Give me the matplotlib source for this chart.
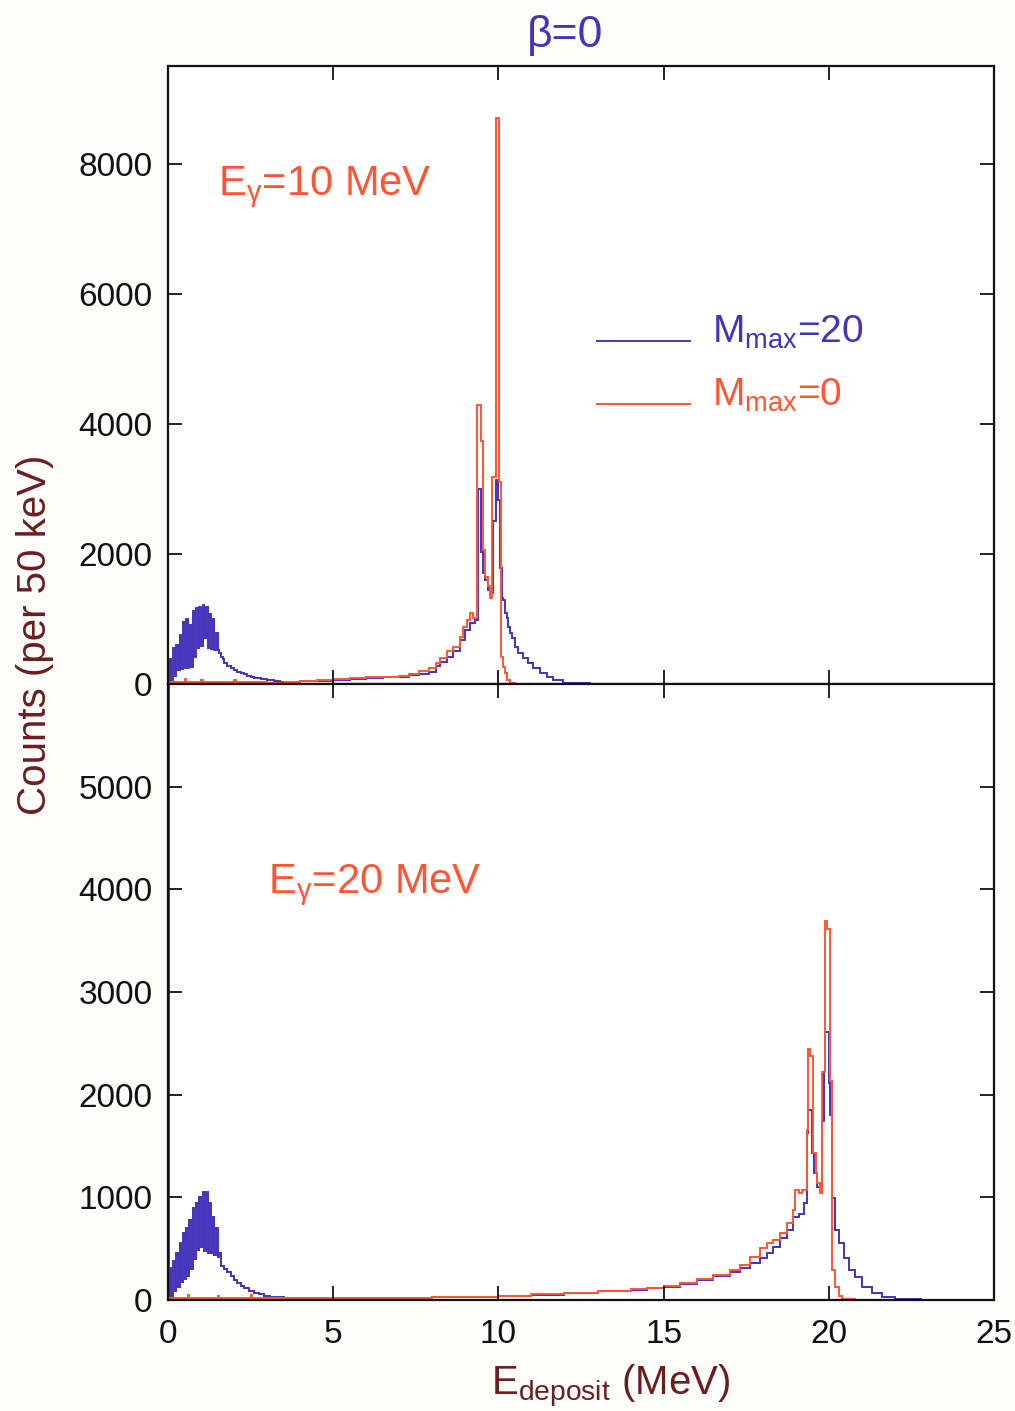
import matplotlib

matplotlib.use("Agg", force=True)

import matplotlib.pyplot as plt
from matplotlib import font_manager


BLUE = "#4433bb"
RED = "#ff5533"
LABEL_COLOR = "#6b1e1e"

# E_gamma = 10 MeV panel, M_max = 20 (blue)
blue10_edges = [
    0.00, 0.05, 0.10, 0.15, 0.20, 0.25, 0.30, 0.35, 0.40, 0.45, 0.50,
    0.55, 0.60, 0.65, 0.70, 0.75, 0.80, 0.85, 0.90, 0.95, 1.00,
    1.05, 1.10, 1.15, 1.20, 1.25, 1.30, 1.35, 1.40, 1.45, 1.50, 1.55,
    1.60, 1.65, 1.70, 1.80, 1.90, 2.00, 2.10, 2.20, 2.30, 2.40,
    2.50, 2.60, 2.80, 3.00, 3.20, 3.40, 3.60, 4.00, 4.50, 5.00,
    5.50, 6.00, 6.50, 7.00, 7.30, 7.60, 7.90, 8.10, 8.23, 8.43,
    8.64, 8.84, 8.99, 9.14, 9.29, 9.39, 9.46, 9.52, 9.58, 9.68,
    9.78, 9.85, 9.92, 10.00, 10.04, 10.10, 10.15, 10.20, 10.25, 10.30,
    10.35, 10.40, 10.50, 10.60, 10.75, 10.90, 11.06, 11.26, 11.46, 11.66,
    11.96, 12.77, 15.00,
]
blue10_counts = [
    0,
    380, 60, 560, 120, 600, 220, 760, 230, 950, 250,
    1000, 240, 900, 260, 1120, 420, 1170, 560, 1180, 580,
    1220, 700, 1180, 560, 1080, 540, 1000, 520, 780, 520,
    470, 420, 390, 330, 280, 250, 220, 190, 170, 150,
    130, 110, 95, 80, 60, 45, 35, 30, 40, 50,
    60, 75, 85, 100, 115, 135, 160, 190, 280, 345,
    420, 500, 680, 830, 935, 985, 3000, 2035, 1700, 1600,
    1450, 1400, 2500, 3140, 2830, 1785, 1320, 1290, 1090, 1015,
    880, 780, 700, 575, 470, 395, 320, 240, 165, 115,
    60, 20, 0,
]

# E_gamma = 10 MeV panel, M_max = 0 (red)
red10_edges = [
    0.00, 0.05, 0.50, 0.55, 1.00, 1.05, 2.00, 2.05, 3.00, 3.50,
    4.00, 4.50, 5.00, 5.50, 6.00, 6.50, 7.00, 7.30, 7.60, 7.90,
    8.10, 8.23, 8.43, 8.64, 8.84, 8.94, 9.04, 9.14, 9.24, 9.36,
    9.46, 9.52, 9.60, 9.70, 9.75, 9.82, 9.92, 10.03, 10.08, 10.15,
    10.20, 10.25, 10.35, 10.50,
]
red10_counts = [
    0, 35, 70, 30, 60, 30, 60, 30, 20, 30,
    45, 55, 70, 85, 100, 115, 130, 160, 200, 250,
    320, 395, 500, 575, 720, 880, 985, 1090, 1015, 4290,
    3730, 2060, 1650, 1500, 1320, 3175, 8700, 3100, 420, 266,
    165, 60, 10,
]

# E_gamma = 20 MeV panel, M_max = 20 (blue)
blue20_edges = [
    0.00, 0.02,
    0.05, 0.10, 0.15, 0.20, 0.25, 0.30, 0.35, 0.40, 0.45, 0.50,
    0.55, 0.60, 0.65, 0.70, 0.75, 0.80, 0.85, 0.90, 0.95, 1.00,
    1.05, 1.10, 1.15, 1.20, 1.25, 1.30, 1.35, 1.40, 1.45, 1.50,
    1.55, 1.60,
    1.70, 1.80, 1.90, 2.00, 2.10, 2.20, 2.30, 2.45, 2.60, 2.75,
    2.90, 3.10, 3.50, 5.00, 8.00, 10.00, 11.00, 12.00, 13.00, 14.00,
    14.50, 15.00, 15.50, 16.00, 16.50, 17.00, 17.30, 17.60, 17.92, 18.12,
    18.32, 18.52, 18.73, 18.93, 19.10, 19.25, 19.33, 19.38, 19.48, 19.55,
    19.63, 19.78, 19.85, 19.90, 20.00, 20.05, 20.10, 20.20, 20.30, 20.45,
    20.60, 20.80, 21.00, 21.30, 21.60, 22.00, 22.80, 25.00,
]
blue20_counts = [
    7000, 0,
    310, 20, 380, 90, 455, 130, 560, 180, 650, 200,
    700, 230, 780, 300, 900, 400, 945, 490, 1000, 520,
    1055, 480, 1050, 455, 945, 460, 810, 440, 700, 420,
    455,
    330, 300, 270, 230, 195, 165, 140, 115, 90, 70,
    55, 40, 25, 20, 20, 30, 40, 50, 65, 85,
    100, 115, 130, 160, 190, 230, 270, 310, 360, 405,
    460, 520, 600, 680, 810, 840, 945, 1625, 1850, 1430,
    1235, 1100, 1740, 2225, 2615, 2110, 1800, 990, 680, 555,
    405, 290, 225, 130, 65, 30, 10, 0,
]

# E_gamma = 20 MeV panel, M_max = 0 (red)
red20_edges = [
    0.00, 0.05, 0.60, 0.65, 1.50, 1.55, 2.50, 2.55, 3.00, 8.00,
    10.00, 11.00, 12.00, 13.00, 14.00, 14.50, 15.00, 15.50, 16.00, 16.50,
    17.00, 17.30, 17.60, 17.92, 18.12, 18.32, 18.52, 18.73, 18.93, 18.98,
    19.10, 19.20, 19.33, 19.38, 19.43, 19.53, 19.60, 19.65, 19.72, 19.80,
    19.87, 19.95, 20.05, 20.10, 20.20, 20.30, 20.40, 20.80,
]
red20_counts = [
    0, 20, 45, 20, 40, 20, 45, 20, 20, 30,
    40, 55, 70, 90, 105, 120, 140, 170, 200, 245,
    290, 340, 420, 505, 555, 585, 650, 750, 880, 1070,
    1040, 1070, 1655, 2440, 2380, 1430, 1235, 1140, 1040, 2225,
    3690, 3610, 2130, 290, 130, 40, 5,
]

x_ticks = [0, 5, 10, 15, 20, 25]
top_yticks = [0, 2000, 4000, 6000, 8000]
bottom_yticks = [0, 1000, 2000, 3000, 4000, 5000]

legend_labels = ["M$_{\\mathrm{max}}$=20", "M$_{\\mathrm{max}}$=0"]
legend_colors = [BLUE, RED]


def setup_fonts():
    plt.rcParams["font.family"] = ["Liberation Sans", "DejaVu Sans"]
    plt.rcParams["mathtext.fontset"] = "custom"
    plt.rcParams["mathtext.rm"] = "Liberation Sans"
    plt.rcParams["mathtext.it"] = "Liberation Sans:italic"
    plt.rcParams["mathtext.bf"] = "Liberation Sans:bold"

    names = {f.name for f in font_manager.fontManager.ttflist}
    if "Liberation Sans Narrow" in names:
        return ["Liberation Sans Narrow", "DejaVu Sans"], 28
    return ["Liberation Sans", "DejaVu Sans"], 24


def style_axes(ax, yticks, ylim, tick_family, tick_size):
    ax.set_xlim(0, 25)
    ax.set_ylim(*ylim)
    ax.set_xticks(x_ticks)
    ax.set_yticks(yticks)
    ax.tick_params(
        direction="in", length=10, width=1.3, top=True, right=True,
        labelsize=tick_size, colors="#111111",
    )
    ax.tick_params(axis="x", pad=14)
    ax.tick_params(axis="y", pad=11)
    for lab in ax.get_xticklabels() + ax.get_yticklabels():
        lab.set_family(tick_family)
    for sp in ax.spines.values():
        sp.set_linewidth(1.6)
        sp.set_color("#111111")


def draw_legend(ax):
    # hand-placed key, line sits on the label baseline like the original
    line_y = [0.555, 0.453]
    for label, color, y in zip(legend_labels, legend_colors, line_y):
        ax.plot([0.519, 0.632], [y, y], color=color, lw=1.4,
                transform=ax.transAxes, clip_on=False)
        ax.text(0.659, y - 0.003, label, color=color, fontsize=28,
                transform=ax.transAxes, ha="left", va="baseline")


def main():
    tick_family, tick_size = setup_fonts()

    fig = plt.figure(figsize=(10.15, 14.11), dpi=100)
    left = 168 / 1015
    width = (994 - 168) / 1015
    ax_top = fig.add_axes([left, 1 - 684 / 1411, width, (684 - 66) / 1411])
    ax_bot = fig.add_axes([left, 1 - 1300 / 1411, width, (1300 - 684) / 1411])

    ax_top.stairs(blue10_counts, blue10_edges, color=BLUE, lw=1.4, baseline=0)
    ax_top.stairs(red10_counts, red10_edges, color=RED, lw=1.4, baseline=0)
    ax_bot.stairs(blue20_counts, blue20_edges, color=BLUE, lw=1.4, baseline=0)
    ax_bot.stairs(red20_counts, red20_edges, color=RED, lw=1.4, baseline=0)

    style_axes(ax_top, top_yticks, (0, 9500), tick_family, tick_size)
    style_axes(ax_bot, bottom_yticks, (0, 6000), tick_family, tick_size)
    ax_top.tick_params(labelbottom=False)

    ax_top.text(0.0605, 0.791, "E$_{\\mathrm{γ}}$=10 MeV", transform=ax_top.transAxes,
                color=RED, fontsize=30, va="baseline", ha="left")
    ax_bot.text(0.121, 0.661, "E$_{\\mathrm{γ}}$=20 MeV", transform=ax_bot.transAxes,
                color=RED, fontsize=30, va="baseline", ha="left")

    draw_legend(ax_top)

    fig.text(565 / 1015, 1 - 47 / 1411, "β=0", color=BLUE, fontsize=32,
             ha="center", va="baseline", family=tick_family)
    fig.text(35 / 1015, 1 - 635 / 1411, "Counts (per 50 keV)", color=LABEL_COLOR,
             fontsize=29, rotation=90, ha="center", va="center")
    fig.text(611 / 1015, 1 - 1395 / 1411, "E$_{\\mathrm{deposit}}$ (MeV)",
             color=LABEL_COLOR, fontsize=29, ha="center", va="baseline")

    fig.savefig("out.png", dpi=100, facecolor="#fcfcfa")
    plt.close(fig)


if __name__ == "__main__":
    main()
